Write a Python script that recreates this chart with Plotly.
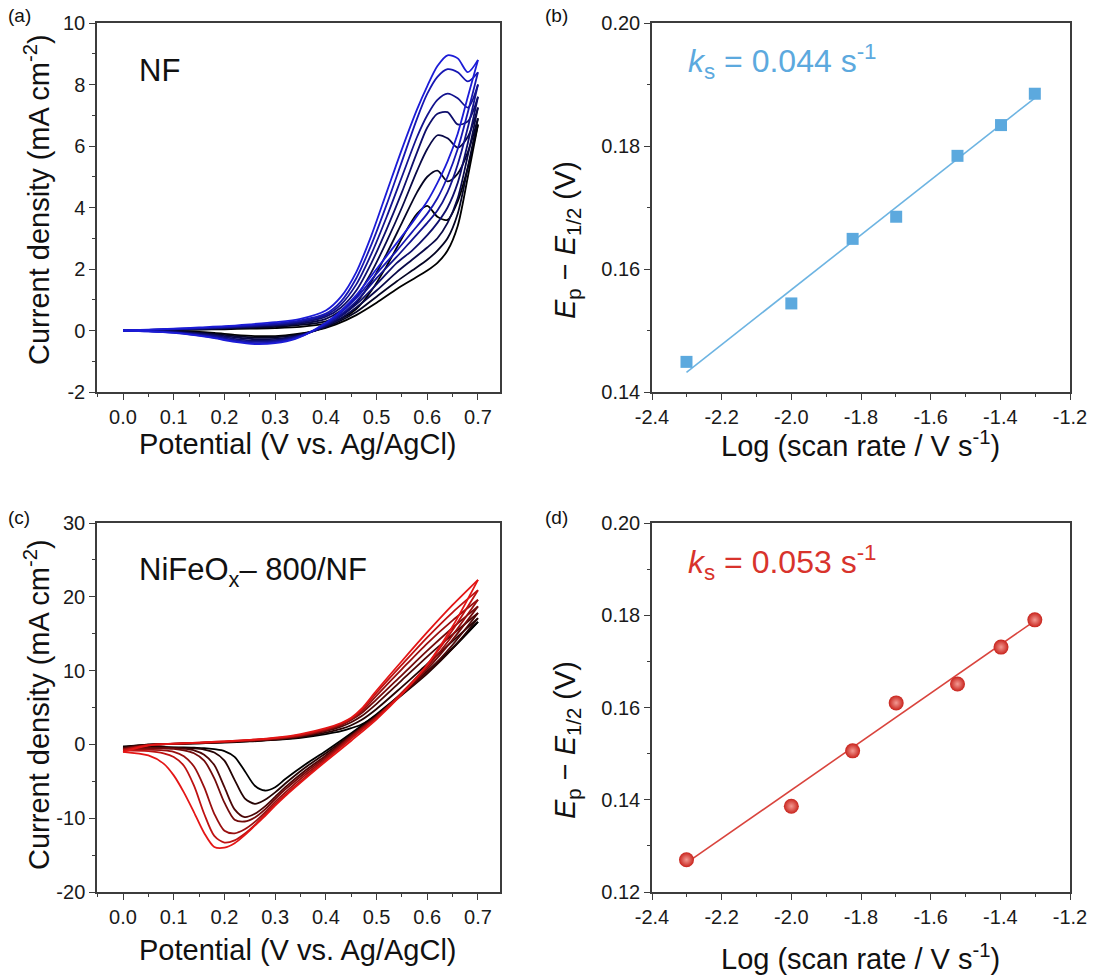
import plotly.graph_objects as go

# ---------------- data ----------------
scan_rates = [5, 10, 15, 20, 30, 40, 50]  # mV/s

# Panel (a): NF, forward (anodic) sweeps
pot_fwd_a = [0.0, 0.05, 0.1, 0.15, 0.2, 0.25, 0.3, 0.35, 0.4, 0.43, 0.46, 0.49, 0.52, 0.55, 0.58, 0.60, 0.62, 0.64, 0.66, 0.68, 0.70]
nf_fwd = [
    [0, 0.01, 0.02, 0.03, 0.04, 0.06, 0.08, 0.12, 0.22, 0.38, 0.7, 1.3, 2.1, 3.0, 3.8, 4.05, 3.7, 3.6, 4.2, 5.3, 6.7],
    [0, 0.01, 0.02, 0.04, 0.06, 0.09, 0.12, 0.18, 0.3, 0.5, 0.9, 1.6, 2.5, 3.5, 4.5, 5.0, 5.2, 4.85, 5.1, 5.8, 6.9],
    [0, 0.01, 0.03, 0.05, 0.08, 0.11, 0.15, 0.22, 0.38, 0.65, 1.1, 1.9, 2.9, 4.0, 5.2, 5.9, 6.35, 6.25, 5.95, 6.3, 7.25],
    [0, 0.02, 0.04, 0.06, 0.09, 0.13, 0.18, 0.26, 0.45, 0.75, 1.3, 2.2, 3.3, 4.5, 5.8, 6.6, 7.05, 7.1, 6.7, 6.8, 7.6],
    [0, 0.02, 0.04, 0.07, 0.1, 0.15, 0.2, 0.3, 0.5, 0.85, 1.5, 2.5, 3.7, 5.0, 6.3, 7.0, 7.5, 7.7, 7.55, 7.25, 8.0],
    [0, 0.02, 0.05, 0.08, 0.12, 0.17, 0.23, 0.33, 0.55, 0.95, 1.7, 2.8, 4.1, 5.5, 6.9, 7.7, 8.25, 8.5, 8.4, 8.1, 8.4],
    [0, 0.03, 0.06, 0.1, 0.14, 0.2, 0.27, 0.38, 0.65, 1.1, 1.9, 3.1, 4.5, 5.9, 7.2, 7.95, 8.6, 8.95, 8.85, 8.4, 8.8],
]
# Panel (a): NF, reverse sweeps
pot_rev_a = [0.70, 0.68, 0.66, 0.64, 0.62, 0.60, 0.57, 0.54, 0.50, 0.46, 0.42, 0.38, 0.34, 0.30, 0.26, 0.22, 0.18, 0.14, 0.10, 0.05, 0.0]
nf_rev = [
    [6.7, 5.0, 3.4, 2.6, 2.2, 1.95, 1.65, 1.35, 0.9, 0.5, 0.2, 0.0, -0.12, -0.18, -0.18, -0.14, -0.08, -0.04, -0.02, 0, 0],
    [6.9, 5.3, 3.8, 3.0, 2.6, 2.3, 1.95, 1.6, 1.1, 0.6, 0.25, 0.0, -0.15, -0.22, -0.23, -0.18, -0.11, -0.06, -0.03, -0.01, 0],
    [7.25, 5.7, 4.3, 3.5, 3.0, 2.7, 2.3, 1.9, 1.3, 0.75, 0.3, 0.0, -0.18, -0.27, -0.28, -0.22, -0.14, -0.08, -0.04, -0.01, 0],
    [7.6, 6.1, 4.8, 4.0, 3.5, 3.1, 2.6, 2.2, 1.5, 0.85, 0.35, 0.0, -0.2, -0.31, -0.33, -0.27, -0.17, -0.1, -0.05, -0.02, 0],
    [8.0, 6.6, 5.4, 4.5, 3.9, 3.5, 2.95, 2.4, 1.7, 0.95, 0.4, 0.02, -0.22, -0.35, -0.37, -0.31, -0.2, -0.12, -0.06, -0.02, 0],
    [8.4, 7.1, 5.9, 5.0, 4.3, 3.8, 3.2, 2.6, 1.85, 1.05, 0.45, 0.03, -0.25, -0.38, -0.41, -0.34, -0.23, -0.14, -0.07, -0.03, 0],
    [8.8, 7.6, 6.4, 5.5, 4.8, 4.2, 3.5, 2.85, 2.0, 1.15, 0.5, 0.05, -0.27, -0.41, -0.44, -0.37, -0.25, -0.15, -0.08, -0.03, 0],
]

# Panel (c): NiFeOx-800/NF, forward sweeps
pot_fwd_c = [0.0, 0.05, 0.1, 0.15, 0.2, 0.25, 0.3, 0.35, 0.4, 0.43, 0.45, 0.47, 0.5, 0.55, 0.6, 0.65, 0.7]
nfo_fwd = [
    [-0.3, -0.05, 0.05, 0.15, 0.25, 0.4, 0.6, 0.9, 1.4, 1.8, 2.2, 2.7, 4.0, 6.9, 9.9, 13.1, 16.6],
    [-0.4, -0.05, 0.05, 0.15, 0.3, 0.45, 0.65, 1.0, 1.6, 2.1, 2.6, 3.3, 4.8, 7.8, 10.9, 14.0, 17.1],
    [-0.5, -0.05, 0.08, 0.2, 0.3, 0.5, 0.7, 1.1, 1.8, 2.4, 3.0, 3.8, 5.5, 8.7, 11.9, 14.9, 17.8],
    [-0.6, -0.1, 0.08, 0.2, 0.35, 0.5, 0.75, 1.15, 1.9, 2.6, 3.3, 4.2, 6.1, 9.4, 12.7, 15.8, 18.7],
    [-0.7, -0.1, 0.1, 0.2, 0.35, 0.55, 0.8, 1.2, 2.0, 2.7, 3.4, 4.4, 6.6, 10.2, 13.7, 16.8, 19.6],
    [-0.8, -0.1, 0.1, 0.25, 0.4, 0.6, 0.85, 1.3, 2.1, 2.8, 3.5, 4.6, 7.0, 10.8, 14.5, 17.9, 20.9],
    [-1.0, -0.15, 0.1, 0.25, 0.4, 0.6, 0.9, 1.4, 2.2, 2.9, 3.6, 4.8, 7.3, 11.3, 15.2, 18.9, 22.3],
]
# Panel (c): reverse sweeps
pot_rev_c = [0.70, 0.65, 0.60, 0.55, 0.50, 0.45, 0.40, 0.36, 0.32, 0.30, 0.28, 0.26, 0.24, 0.22, 0.20, 0.18, 0.16, 0.14, 0.12, 0.10, 0.08, 0.05, 0.0]
nfo_rev = [
    [16.6, 13.0, 9.8, 6.9, 4.1, 1.5, -0.9, -2.7, -4.7, -5.8, -6.25, -5.6, -3.6, -1.7, -0.9, -0.65, -0.5, -0.45, -0.4, -0.4, -0.35, -0.35, -0.3],
    [17.1, 13.0, 9.6, 6.7, 3.9, 1.3, -1.2, -3.1, -5.3, -6.5, -7.5, -8.05, -7.3, -4.8, -2.2, -1.1, -0.7, -0.55, -0.5, -0.45, -0.4, -0.4, -0.4],
    [17.8, 13.5, 9.8, 6.8, 3.8, 1.2, -1.5, -3.5, -5.8, -7.1, -8.4, -9.4, -9.85, -8.8, -5.8, -2.8, -1.4, -0.8, -0.6, -0.5, -0.45, -0.45, -0.5],
    [18.7, 14.2, 10.2, 6.9, 3.8, 1.1, -1.7, -3.8, -6.1, -7.4, -8.8, -9.9, -10.45, -10.2, -7.9, -4.6, -2.2, -1.2, -0.8, -0.6, -0.55, -0.5, -0.6],
    [19.6, 14.8, 10.5, 7.0, 3.7, 1.0, -1.9, -4.1, -6.5, -7.8, -9.2, -10.5, -11.5, -12.05, -11.7, -9.4, -5.8, -3.0, -1.6, -1.0, -0.8, -0.7, -0.7],
    [20.9, 15.5, 10.8, 7.0, 3.6, 0.8, -2.1, -4.4, -6.8, -8.1, -9.5, -10.9, -12.1, -13.0, -13.3, -12.4, -9.4, -5.6, -2.9, -1.7, -1.2, -0.9, -0.8],
    [22.3, 16.0, 10.8, 6.8, 3.4, 0.5, -2.3, -4.6, -7.0, -8.3, -9.7, -11.0, -12.3, -13.4, -14.0, -13.9, -12.0, -9.2, -6.5, -4.2, -2.6, -1.5, -1.0],
]

# Panels (b), (d): log(scan rate) vs Ep - E1/2
log_rate = [-2.301, -2.0, -1.824, -1.699, -1.523, -1.398, -1.301]
dE_nf = [0.1449, 0.1544, 0.1649, 0.1685, 0.1784, 0.1834, 0.1885]
dE_nfo = [0.1270, 0.1386, 0.1506, 0.1610, 0.1651, 0.1731, 0.1790]
fit_x = [-2.301, -1.301]
fit_nf = [0.1432, 0.1878]
fit_nfo = [0.1263, 0.1788]

# tick labels
cv_xticks = [0.0, 0.1, 0.2, 0.3, 0.4, 0.5, 0.6, 0.7]
cv_xlabels = ["0.0", "0.1", "0.2", "0.3", "0.4", "0.5", "0.6", "0.7"]
a_yticks = [-2, 0, 2, 4, 6, 8, 10]
a_ylabels = ["-2", "0", "2", "4", "6", "8", "10"]
c_yticks = [-20, -10, 0, 10, 20, 30]
c_ylabels = ["-20", "-10", "0", "10", "20", "30"]
log_xticks = [-2.4, -2.2, -2.0, -1.8, -1.6, -1.4, -1.2]
log_xlabels = ["-2.4", "-2.2", "-2.0", "-1.8", "-1.6", "-1.4", "-1.2"]
b_yticks = [0.14, 0.16, 0.18, 0.20]
b_ylabels = ["0.14", "0.16", "0.18", "0.20"]
d_yticks = [0.12, 0.14, 0.16, 0.18, 0.20]
d_ylabels = ["0.12", "0.14", "0.16", "0.18", "0.20"]

# ---------------- figure ----------------
W, H = 1094, 976
FONT = "Liberation Sans, Arial, Helvetica, sans-serif"
fig = go.Figure()


def mix(c0, c1, t):
    return "rgb(%d,%d,%d)" % tuple(round(a + (b - a) * t) for a, b in zip(c0, c1))


n = len(scan_rates)
for i in range(n):
    col = mix((0, 0, 0), (28, 28, 215), i / (n - 1))
    for xs, ys in ((pot_fwd_a, nf_fwd[i]), (pot_rev_a, nf_rev[i])):
        fig.add_trace(go.Scatter(x=xs, y=ys, mode="lines", xaxis="x", yaxis="y",
                                 line=dict(color=col, width=1.8, shape="spline", smoothing=0.8),
                                 showlegend=False, hoverinfo="skip"))
for i in range(n):
    col = mix((0, 0, 0), (228, 22, 22), i / (n - 1))
    for xs, ys in ((pot_fwd_c, nfo_fwd[i]), (pot_rev_c, nfo_rev[i])):
        fig.add_trace(go.Scatter(x=xs, y=ys, mode="lines", xaxis="x3", yaxis="y3",
                                 line=dict(color=col, width=1.8, shape="spline", smoothing=0.8),
                                 showlegend=False, hoverinfo="skip"))

BLUE = "#5CA9DE"
RED = "#D8332C"
fig.add_trace(go.Scatter(x=fit_x, y=fit_nf, mode="lines", xaxis="x2", yaxis="y2",
                         line=dict(color="#6DB4E2", width=1.6), showlegend=False))
fig.add_trace(go.Scatter(x=log_rate, y=dE_nf, mode="markers", xaxis="x2", yaxis="y2",
                         marker=dict(symbol="square", size=12, color=BLUE), showlegend=False))
fig.add_trace(go.Scatter(x=fit_x, y=fit_nfo, mode="lines", xaxis="x4", yaxis="y4",
                         line=dict(color="#D9443D", width=1.6), showlegend=False))
fig.add_trace(go.Scatter(x=log_rate, y=dE_nfo, mode="markers", xaxis="x4", yaxis="y4",
                         marker=dict(symbol="circle", size=15, color="#C8231C",
                                     gradient=dict(type="radial", color="#F39A93"),
                                     line=dict(width=0)),
                         showlegend=False))

# panel geometry in pixels
def dom(p0, p1, total):
    return [p0 / total, p1 / total]

xa = dom(97, 500, W)
xb = dom(652, 1070, W)
ytop = [1 - 392 / H, 1 - 23 / H]
ybot = [1 - 892 / H, 1 - 523 / H]

axis_common = dict(showline=True, linecolor="#3c3c3c", linewidth=1.5, mirror=True,
                   ticks="outside", ticklen=6, tickwidth=1.4, tickcolor="#3c3c3c",
                   showgrid=False, zeroline=False, automargin=False,
                   tickfont=dict(family=FONT, size=20, color="#1a1a1a"))


def ax(domain, anchor, rng, tv, tt, minor_dtick, minor_start):
    d = dict(axis_common)
    d.update(domain=domain, anchor=anchor, range=rng, tickmode="array", tickvals=tv, ticktext=tt,
             minor=dict(ticks="outside", ticklen=3.5, tickwidth=1.2, tickcolor="#3c3c3c",
                        dtick=minor_dtick, tick0=minor_start, showgrid=False))
    return d


fig.update_layout(
    width=W, height=H, margin=dict(l=0, r=0, t=0, b=0, pad=0, autoexpand=False),
    paper_bgcolor="white", plot_bgcolor="white", showlegend=False,
    xaxis=ax(xa, "y", [-0.0513, 0.7434], cv_xticks, cv_xlabels, 0.05, 0),
    yaxis=ax(ytop, "x", [-2, 10], a_yticks, a_ylabels, 1, 0),
    xaxis2=ax(xb, "y2", [-2.4, -1.2], log_xticks, log_xlabels, 0.1, -2.4),
    yaxis2=ax(ytop, "x2", [0.14, 0.20], b_yticks, b_ylabels, 0.01, 0.14),
    xaxis3=ax(xa, "y3", [-0.0513, 0.7434], cv_xticks, cv_xlabels, 0.05, 0),
    yaxis3=ax(ybot, "x3", [-20, 30], c_yticks, c_ylabels, 5, 0),
    xaxis4=ax(xb, "y4", [-2.4, -1.2], log_xticks, log_xlabels, 0.1, -2.4),
    yaxis4=ax(ybot, "x4", [0.12, 0.20], d_yticks, d_ylabels, 0.01, 0.12),
)


def txt(text, x, y, size, color="#111111", angle=0, xanchor="center", yanchor="middle"):
    fig.add_annotation(text=text, x=x / W, y=1 - y / H, xref="paper", yref="paper",
                       showarrow=False, textangle=angle, xanchor=xanchor, yanchor=yanchor,
                       font=dict(family=FONT, size=size, color=color))


TITLE = 29
# panel letters
txt("(a)", 6, 15, 19, xanchor="left")
txt("(b)", 543, 15, 19, xanchor="left")
txt("(c)", 6, 517, 19, xanchor="left")
txt("(d)", 543, 517, 19, xanchor="left")
# axis titles
txt("Current density (mA cm<sup>-2</sup>)", 37, 200, TITLE, angle=-90)
txt("Current density (mA cm<sup>-2</sup>)", 37, 705, TITLE, angle=-90)
txt("Potential (V vs. Ag/AgCl)", 298, 444, TITLE)
txt("Potential (V vs. Ag/AgCl)", 298, 950, TITLE)
txt("Log (scan rate / V s<sup>-1</sup>)", 860, 444, TITLE)
txt("Log (scan rate / V s<sup>-1</sup>)", 860, 957, TITLE)
ep = "<i>E</i><sub>p</sub> \u2212 <i>E</i><sub>1/2</sub> (V)"
txt(ep, 567, 240, TITLE, angle=-90)
txt(ep, 567, 740, TITLE, angle=-90)
# in-panel labels
txt("NF", 137, 70, 31, xanchor="left")
txt("NiFeO<sub>x</sub>\u2013 800/NF", 137, 572, 31, xanchor="left")
txt("<i>k</i><sub>s</sub> = 0.044 s<sup>-1</sup>", 686, 62, 32, color=BLUE, xanchor="left")
txt("<i>k</i><sub>s</sub> = 0.053 s<sup>-1</sup>", 686, 562, 32, color=RED, xanchor="left")

fig.write_html("out.html")
